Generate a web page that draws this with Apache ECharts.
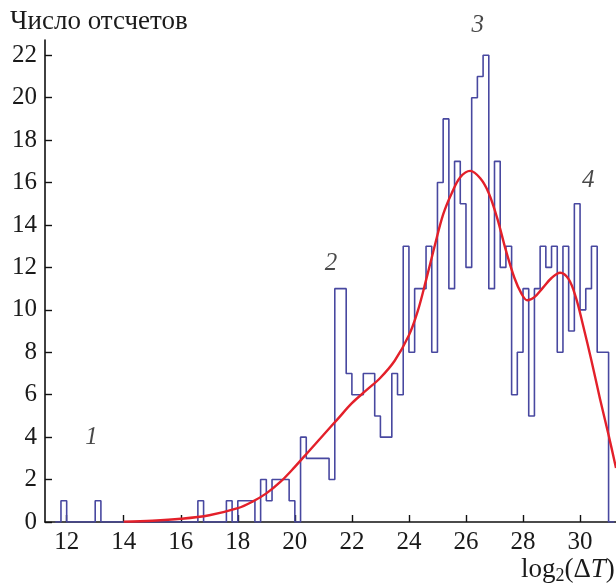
<!DOCTYPE html>
<html>
<head>
<meta charset="UTF-8">
<title></title>
<script src="https://cdn.jsdelivr.net/npm/echarts@6/dist/echarts.min.js"></script>
<style>html,body{margin:0;padding:0;background:#fff;}</style>
</head>
<body>
<div id="echartsDom" style="width:616px;height:583px;"></div>
<script>
// histogram: bins of 0.2 starting at 11.6
var binStart = 11.6;
var binWidth = 0.2;
var counts = [
  0, 1, 0, 0, 0, 0, 0, 1,                         // 11.6 .. 13.0
  0, 0, 0, 0, 0, 0, 0, 0, 0, 0, 0, 0, 0, 0, 0, 0, 0, // 13.2 .. 16.4
  1, 0, 0, 0, 0, 1, 0,                            // 16.6 .. 17.8
  1, 1, 1, 0, 2, 1, 2, 2, 2, 1, 0,                // 18.0 .. 20.0
  4, 3, 3, 3, 3, 2, 11, 11, 7, 6, 6, 7, 7, 5, 4, 4, 7, 6, // 20.2 .. 23.6
  13, 8, 11, 11, 13, 8, 16, 19, 11, 17, 15, 12,   // 23.8 .. 26.0
  20, 21, 22, 11, 17, 12, 13, 6, 8, 11, 5, 11,    // 26.2 .. 28.4
  13, 12, 13, 8, 13, 9, 15, 10, 11, 13, 8, 8,     // 28.6 .. 30.8
  0, 0                                            // 31.0, 31.2
];

// smoothed fit (red)
var fitX = [14, 15, 16, 17, 18, 18.5, 19, 19.5, 20, 20.5, 21, 21.5, 22, 22.5, 23, 23.5, 24, 24.3, 24.6, 24.9, 25.2, 25.5, 25.8, 26.15, 26.5, 26.8, 27.1, 27.4, 27.7, 27.95, 28.15, 28.4, 28.7, 29.0, 29.3, 29.6, 29.85, 30.1, 30.4, 30.7, 31.0, 31.26];
var fitY = [0.02, 0.06, 0.15, 0.32, 0.65, 0.95, 1.35, 1.9, 2.6, 3.35, 4.1, 4.85, 5.6, 6.2, 6.8, 7.6, 8.8, 9.9, 11.4, 13.0, 14.5, 15.5, 16.25, 16.55, 16.2, 15.5, 14.3, 12.8, 11.5, 10.75, 10.45, 10.6, 11.05, 11.5, 11.75, 11.45, 10.6, 9.3, 7.6, 5.8, 4.1, 2.55];

var xTicks = [12, 14, 16, 18, 20, 22, 24, 26, 28, 30];
var yTicks = [0, 2, 4, 6, 8, 10, 12, 14, 16, 18, 20, 22];

var peakNames = ['1', '2', '3', '4'];
var peakX = [12.87, 21.27, 26.41, 30.29];
var peakY = [4.0, 12.2, 23.43, 16.1];

var histData = counts.map(function (c, i) {
  return [Math.round((binStart + i * binWidth) * 10) / 10, c];
});
var fitData = fitX.map(function (x, i) { return [x, fitY[i]]; });
var peakData = peakNames.map(function (n, i) { return { name: n, value: [peakX[i], peakY[i]] }; });

var serif = '"Liberation Serif", "DejaVu Serif", serif';
var axisColor = '#111';
var textColor = '#1a1a1a';

var myChart = echarts.init(document.getElementById('echartsDom'));
var option = {
  animation: false,
  backgroundColor: '#fff',
  grid: { left: 45, top: 40, right: 0, bottom: 61 },
  xAxis: {
    type: 'value',
    min: 11.24,
    max: 31.26,
    axisLine: { lineStyle: { color: axisColor, width: 1.6 } },
    axisTick: { inside: true, length: 7, customValues: xTicks, lineStyle: { color: axisColor, width: 1.4 } },
    axisLabel: { customValues: xTicks, fontFamily: serif, fontSize: 25, color: textColor, margin: 8 },
    splitLine: { show: false }
  },
  yAxis: {
    type: 'value',
    min: 0,
    max: 22.72,
    axisLine: { show: true, lineStyle: { color: axisColor, width: 1.6 } },
    axisTick: { show: true, inside: true, length: 7, customValues: yTicks, lineStyle: { color: axisColor, width: 1.4 } },
    axisLabel: { customValues: yTicks, fontFamily: serif, fontSize: 25, color: textColor, margin: 8 },
    splitLine: { show: false }
  },
  graphic: [
    {
      type: 'text', left: 10, top: 8,
      style: { text: 'Число отсчетов', font: '27px ' + serif, fill: textColor }
    },
    {
      type: 'text', left: 521, top: 556,
      style: {
        text: '{n|log}{s|2}{n|(Δ}{i|T}{n|)}',
        rich: {
          n: { fontFamily: serif, fontSize: 27, lineHeight: 32, fill: textColor, verticalAlign: 'middle' },
          s: { fontFamily: serif, fontSize: 18, lineHeight: 18, fill: textColor, verticalAlign: 'bottom' },
          i: { fontFamily: serif, fontSize: 27, lineHeight: 32, fontStyle: 'italic', fill: textColor, verticalAlign: 'middle' }
        }
      }
    }
  ],
  series: [
    {
      type: 'line',
      step: 'end',
      data: histData,
      symbol: 'none',
      lineStyle: { color: '#4848a0', width: 1.6 },
      z: 2
    },
    {
      type: 'line',
      smooth: 0.35,
      data: fitData,
      symbol: 'none',
      lineStyle: { color: '#e3202a', width: 2.4 },
      z: 3
    },
    {
      type: 'scatter',
      data: peakData,
      clip: false,
      symbolSize: 1,
      itemStyle: { color: 'rgba(0,0,0,0)' },
      label: {
        show: true,
        position: 'inside',
        formatter: function (p) { return p.name; },
        fontFamily: serif,
        fontStyle: 'italic',
        fontSize: 25,
        color: textColor
      },
      z: 4
    }
  ]
};
myChart.setOption(option);
</script>
</body>
</html>
